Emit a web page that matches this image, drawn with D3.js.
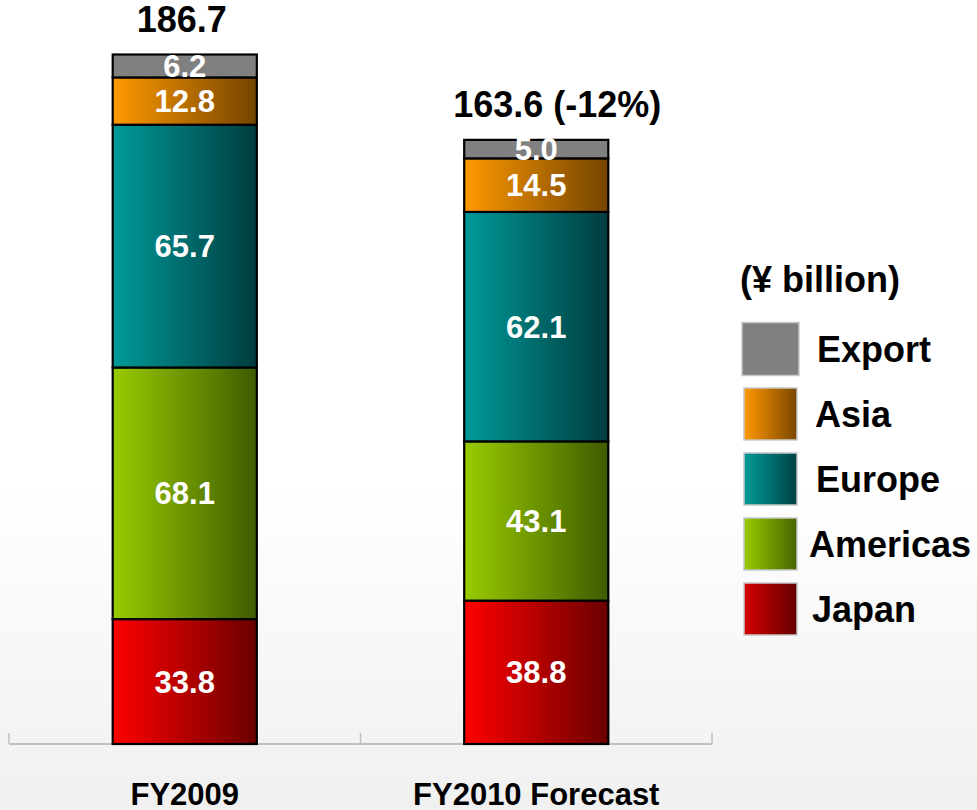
<!DOCTYPE html>
<html>
<head>
<meta charset="utf-8">
<script src="https://cdn.jsdelivr.net/npm/d3@7"></script>
<style>
  html, body { margin: 0; padding: 0; background: #fff; }
  svg { display: block; }
  text { font-family: "Liberation Sans", Arial, sans-serif; font-weight: bold; }
</style>
</head>
<body>
<svg id="chart" width="977" height="810"></svg>
<script>
// Net sales by region, ¥ billion
const categories = ["FY2009", "FY2010 Forecast"];
const regions = ["Japan", "Americas", "Europe", "Asia", "Export"];
const japan    = [33.8, 38.8];
const americas = [68.1, 43.1];
const europe   = [65.7, 62.1];
const asia     = [12.8, 14.5];
const exportV  = [6.2, 5.0];
const totalLabels = ["186.7", "163.6 (-12%)"];
const totals = [186.7, 163.6];
const legendOrder = ["Export", "Asia", "Europe", "Americas", "Japan"];
const unitLabel = "(¥ billion)";

const seriesValues = { Japan: japan, Americas: americas, Europe: europe, Asia: asia, Export: exportV };

// bar fills: horizontal gradients, bright on the left, dark on the right
const barFill = {
  Japan:    ["#ff0000", "#6a0000"],
  Americas: ["#99cc00", "#3f5c00"],
  Europe:   ["#009a99", "#003c3f"],
  Asia:     ["#ff9900", "#744400"],
  Export:   ["#808080", "#808080"]
};
const legendFill = {
  Japan:    ["#d40000", "#640000"],
  Americas: ["#99cc00", "#466400"],
  Europe:   ["#009a99", "#004244"],
  Asia:     ["#ff9900", "#7a4600"],
  Export:   ["#808080", "#808080"]
};

const svg = d3.select("#chart");
const W = 977, H = 810;
const defs = svg.append("defs");

// page background: white fading to light grey at the bottom
const bg = defs.append("linearGradient").attr("id", "bg")
  .attr("x1", 0).attr("y1", 0).attr("x2", 0).attr("y2", 1);
bg.append("stop").attr("offset", "0%").attr("stop-color", "#ffffff");
bg.append("stop").attr("offset", "60%").attr("stop-color", "#ffffff");
bg.append("stop").attr("offset", "100%").attr("stop-color", "#f0f0f0");
svg.append("rect").attr("width", W).attr("height", H).attr("fill", "url(#bg)");

function addGrad(id, cols) {
  const g = defs.append("linearGradient").attr("id", id)
    .attr("x1", 0).attr("y1", 0).attr("x2", 1).attr("y2", 0);
  g.append("stop").attr("offset", "0%").attr("stop-color", cols[0]);
  g.append("stop").attr("offset", "100%").attr("stop-color", cols[1]);
}
regions.forEach(r => { addGrad("bar-" + r, barFill[r]); addGrad("leg-" + r, legendFill[r]); });

// scales
const x = d3.scaleBand().domain(categories).range([9, 712])
  .paddingInner(0.59).paddingOuter(0.295);
const y = d3.scaleLinear().domain([0, 200]).range([744, 5]);

// stacked data
const table = categories.map((c, i) => {
  const row = { category: c };
  regions.forEach(r => row[r] = seriesValues[r][i]);
  return row;
});
const stacked = d3.stack().keys(regions)(table);

// category axis
const axisG = svg.append("g");
axisG.append("line")
  .attr("x1", x.range()[0]).attr("x2", x.range()[1])
  .attr("y1", y(0)).attr("y2", y(0))
  .attr("stroke", "#c0c0c0").attr("stroke-width", 2);
const bounds = [x.range()[0], ...categories.slice(1).map(c => x(c) - x.step() * x.paddingInner() / 2), x.range()[1]];
axisG.selectAll("line.tick").data(bounds).join("line").attr("class", "tick")
  .attr("x1", d => d).attr("x2", d => d)
  .attr("y1", y(0) - 11).attr("y2", y(0))
  .attr("stroke", "#c0c0c0").attr("stroke-width", 1.5);

// bars
const layers = svg.append("g").selectAll("g").data(stacked).join("g")
  .attr("fill", d => "url(#bar-" + d.key + ")");
layers.selectAll("rect").data(d => d.map(v => ({ key: d.key, v, cat: v.data.category }))).join("rect")
  .attr("x", d => x(d.cat))
  .attr("width", x.bandwidth())
  .attr("y", d => y(d.v[1]))
  .attr("height", d => y(d.v[0]) - y(d.v[1]))
  .attr("stroke", "#000").attr("stroke-width", 2.2);

// value labels inside segments
const segLabels = svg.append("g");
stacked.forEach(layer => {
  layer.forEach(v => {
    const val = v[1] - v[0];
    segLabels.append("text")
      .attr("x", x(v.data.category) + x.bandwidth() / 2)
      .attr("y", (y(v[0]) + y(v[1])) / 2 + 11)
      .attr("text-anchor", "middle")
      .attr("font-size", 31)
      .attr("fill", "#fff")
      .text(val.toFixed(1));
  });
});

// totals above each bar
svg.append("g").selectAll("text").data(categories).join("text")
  .attr("x", (c, i) => x(c) + x.bandwidth() / 2 + (i === 1 ? 21 : -3))
  .attr("y", (c, i) => y(totals[i]) - 22)
  .attr("text-anchor", "middle")
  .attr("font-size", 36)
  .attr("fill", "#000")
  .text((c, i) => totalLabels[i]);

// category labels
svg.append("g").selectAll("text").data(categories).join("text")
  .attr("x", c => x(c) + x.bandwidth() / 2)
  .attr("y", 805)
  .attr("text-anchor", "middle")
  .attr("font-size", 31)
  .attr("fill", "#000")
  .text(c => c);

// legend
const leg = svg.append("g");
leg.append("text").attr("x", 740).attr("y", 292).attr("font-size", 36).attr("fill", "#000").text(unitLabel);
const legY = d3.scalePoint().domain(legendOrder).range([349, 609]);
const labelX = { Export: 817, Asia: 815, Europe: 816, Americas: 809, Japan: 812 };
legendOrder.forEach(r => {
  const cy = legY(r);
  const big = r === "Export";
  const w = big ? 57 : 53, h = big ? 53 : 52;
  const x0 = big ? 742 : 744;
  leg.append("rect")
    .attr("x", x0).attr("y", cy - h / 2).attr("width", w).attr("height", h)
    .attr("fill", "url(#leg-" + r + ")")
    .attr("stroke", "#c8c8c8").attr("stroke-width", 1.5);
  leg.append("text")
    .attr("x", labelX[r]).attr("y", cy + 13)
    .attr("font-size", 36).attr("fill", "#000")
    .text(r);
});
</script>
</body>
</html>
